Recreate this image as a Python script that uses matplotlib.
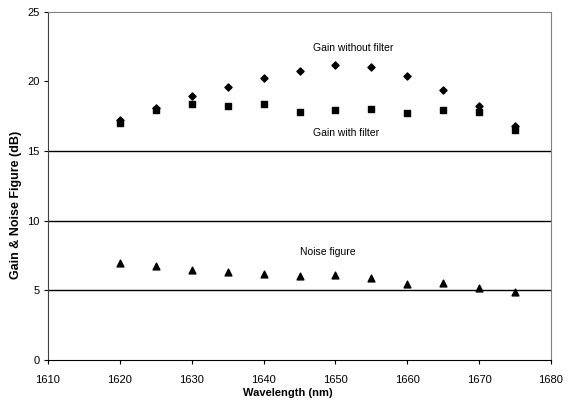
import matplotlib
matplotlib.use("Agg")
from matplotlib import pyplot as plt

plt.rcParams["font.family"] = ["Liberation Sans", "DejaVu Sans"]

wavelength = [1620, 1625, 1630, 1635, 1640, 1645, 1650, 1655, 1660, 1665, 1670, 1675]
gainNoFilter = [17.2, 18.1, 18.95, 19.6, 20.2, 20.7, 21.15, 21.0, 20.4, 19.4, 18.2, 16.8]
gainFilter = [17.0, 17.9, 18.4, 18.2, 18.4, 17.8, 17.9, 18.0, 17.7, 17.9, 17.8, 16.5]
noiseFigure = [6.95, 6.75, 6.47, 6.3, 6.16, 6.06, 6.08, 5.85, 5.46, 5.55, 5.15, 4.9]
gridLevels = [5, 10, 15]

fig = plt.figure(figsize=(5.73, 4.05), dpi=100)
ax = fig.add_axes([0.0838, 0.1111, 0.8778, 0.8605])

for lvl in gridLevels:
    ax.axhline(lvl, color="black", linewidth=1.0, zorder=1)

ax.scatter(wavelength, gainNoFilter, marker="D", s=13, color="black", zorder=3)
ax.scatter(wavelength, gainFilter, marker="s", s=24, color="black", zorder=3)
ax.scatter(wavelength, noiseFigure, marker="^", s=24, color="black", zorder=3)

ax.text(1652.5, 22.4, "Gain without filter", ha="center", va="center", fontsize=7.5)
ax.text(1651.5, 16.3, "Gain with filter", ha="center", va="center", fontsize=7.5)
ax.text(1649, 7.75, "Noise figure", ha="center", va="center", fontsize=7.5)

ax.set_xlim(1610, 1680)
ax.set_ylim(0, 25)
ax.set_xticks(range(1610, 1681, 10))
ax.set_yticks(range(0, 26, 5))
ax.tick_params(axis="x", direction="out", length=3, width=0.8, labelsize=8, pad=8)
ax.tick_params(axis="y", direction="out", length=3, width=0.8, labelsize=8, pad=3)

ax.spines["top"].set_color("gray")
ax.spines["right"].set_color("gray")
ax.spines["left"].set_color("#404040")
ax.spines["bottom"].set_color("black")

ax.set_xlabel("Wavelength (nm)", fontsize=8, fontweight="bold")
ax.xaxis.set_label_coords(0.476, -0.08)
ax.set_ylabel("Gain & Noise Figure (dB)", fontsize=9, fontweight="bold")
ax.yaxis.set_label_coords(-0.052, 0.445)

fig.savefig("out.png", dpi=100)
